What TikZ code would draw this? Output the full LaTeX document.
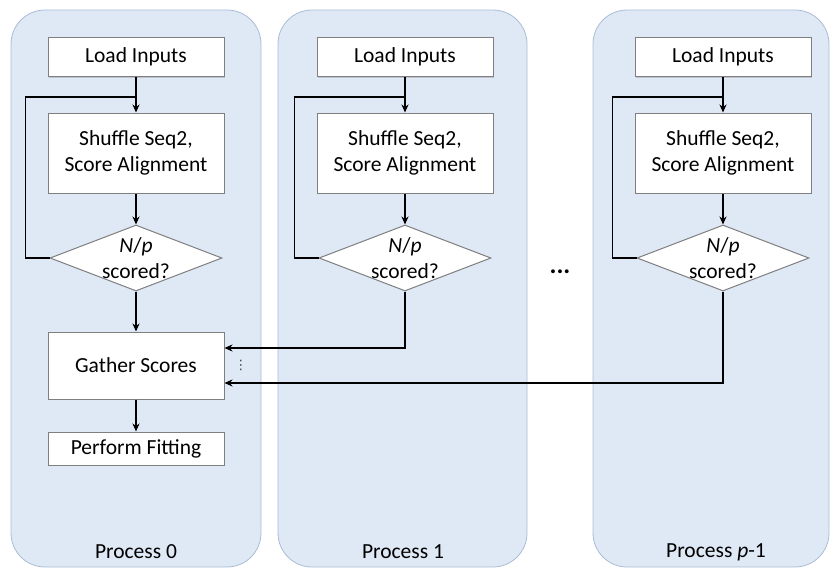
\documentclass[tikz,border=0pt]{standalone}
\usepackage{fontspec}
\setmainfont{Carlito}
\newfontfamily\symfont{DejaVu Sans}
\usetikzlibrary{positioning,arrows.meta,shapes.geometric,shadows}
\definecolor{panelfill}{HTML}{DFE8F5}
\definecolor{paneldraw}{HTML}{A9BDD6}
\definecolor{boxdraw}{HTML}{7F7F7F}
\begin{document}
\begin{tikzpicture}
    [
      x=1pt, y=-1pt,
      >/.tip={Stealth[length=8pt,width=7pt]},
      line width=1.5pt,
      font=\fontsize{21.5}{26}\selectfont,
      my panel/.style={fill=panelfill, draw=paneldraw, line width=0.8pt, rounded corners=34pt},
      my box/.style={rectangle, draw=boxdraw, line width=1pt, fill=white, minimum width=176pt, inner sep=0pt, align=center,
        drop shadow={shadow xshift=1pt, shadow yshift=-1pt, opacity=0.35}},
      my decision/.style={diamond, draw=boxdraw, line width=1pt, fill=white, minimum width=172pt, minimum height=66pt, inner sep=0pt}
    ]
    \useasboundingbox (0,0) rectangle (831,571);
    \foreach \i/\cx/\pl/\pr/\lx/\txt in {0/136/11/261/136/0, 1/405/278/527/403/1, 2/723/593/829/716/{\textit{p}-1}} {
      \path [my panel] (\pl,10) rectangle (\pr,567);
      \node (load\i) [my box, minimum height=39pt] at (\cx,57) {Load Inputs};
      \node (shuffle\i) [my box, minimum height=80pt] at (\cx,153) {Shuffle Seq2,\\Score Alignment};
      \node (dec\i) [my decision, label={[align=center]center:{\textit{N}/\textit{p}\\scored?}}] at (\cx,258) {};
      \coordinate (join\i) at (\cx,97);
      \path [->, draw] (load\i) -- (shuffle\i);
      \path [->, draw] (shuffle\i) -- (dec\i);
      \path [draw] (dec\i.west) -- ++(-24,0) |- (join\i);
      \node (proc\i) at (\lx,552) {Process \txt};
    }
    \node (gather) [my box, minimum height=67pt] at (136,365.5) {Gather Scores};
    \node (fit) [my box, minimum height=33pt] at (136,448.5) {Perform Fitting};
    \path [->, draw] (dec0) -- (gather);
    \path [->, draw] (gather) -- (fit);
    \path [->, draw] (dec1.south) |- ([yshift=17.5pt]gather.east);
    \path [->, draw] (dec2.south) |- ([yshift=-17.5pt]gather.east);
    \node (vdots) [right=9pt of gather, inner sep=0pt, text=black!75, font=\symfont\fontsize{13}{13}\selectfont] {⋮};
    \node (hdots) at (560,272) {\fontsize{26}{26}\bfseries ...};
  \end{tikzpicture}
\end{document}
